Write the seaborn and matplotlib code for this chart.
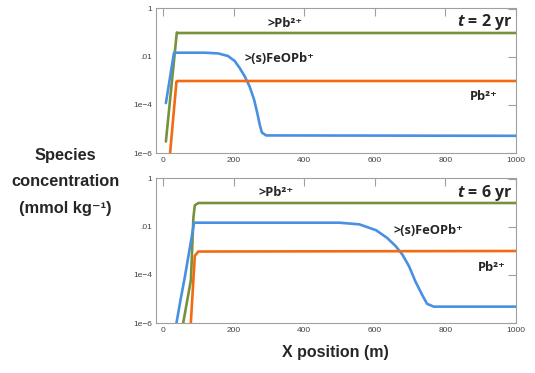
import pandas as pd
import matplotlib
matplotlib.use('Agg')
import matplotlib.pyplot as plt
import seaborn as sns

# --- values (x in m, concentration in mmol/kg) ---
species_names = ['>Pb2+', '>(s)FeOPb+', 'Pb2+']
panel_titles = ['2 yr', '6 yr']

# t = 2 yr
x_sorbed_2 = [8, 39, 42, 1000]
c_sorbed_2 = [3e-6, 0.105, 0.1, 0.1]
x_feopb_2 = [8, 31, 118, 156, 184, 203, 217, 231, 245, 258, 267, 274, 280, 292, 1000]
c_feopb_2 = [1.2e-4, 0.0151, 0.0151, 0.0141, 0.011, 0.0068, 0.0035, 0.0016, 6.0e-4,
             1.66e-4, 4.6e-5, 1.5e-5, 7.1e-6, 5.4e-6, 5.2e-6]
x_pb_2 = [19, 38, 41, 1000]
c_pb_2 = [7e-7, 9.5e-4, 1e-3, 1e-3]

# t = 6 yr
x_sorbed_6 = [57, 79, 86, 90, 100, 1000]
c_sorbed_6 = [1e-6, 6.3e-5, 0.025, 0.08, 0.1, 0.1]
x_feopb_6 = [38, 50, 62, 88, 300, 499, 556, 603, 635, 659, 678, 697, 715, 734, 748, 767, 1000]
c_feopb_6 = [1e-6, 1e-5, 8.7e-5, 0.0151, 0.0151, 0.0151, 0.0129, 0.0074, 0.0035, 0.0016,
             7.1e-4, 2.3e-4, 5.4e-5, 1.5e-5, 6.3e-6, 4.8e-6, 4.8e-6]
x_pb_6 = [78, 90, 100, 1000]
c_pb_6 = [7e-7, 6.3e-4, 9.5e-4, 1e-3]

ytick_vals = [1e-6, 1e-4, 1e-2, 1]
ytick_labels = ['1e\u22126', '1e\u22124', '.01', '1']
xtick_vals = [0, 200, 400, 600, 800, 1000]


def make_df(xs, cs):
    rows = []
    for name, x, c in zip(species_names, xs, cs):
        for xi, ci in zip(x, c):
            rows.append({'x': xi, 'conc': ci, 'species': name})
    return pd.DataFrame(rows)


panels = [
    make_df([x_sorbed_2, x_feopb_2, x_pb_2], [c_sorbed_2, c_feopb_2, c_pb_2]),
    make_df([x_sorbed_6, x_feopb_6, x_pb_6], [c_sorbed_6, c_feopb_6, c_pb_6]),
]

palette = {'>Pb2+': '#76923C', '>(s)FeOPb+': '#4A90E2', 'Pb2+': '#F26B12'}

sns.set_style('white')
plt.rcParams['font.family'] = ['Liberation Sans', 'DejaVu Sans']
plt.rcParams['mathtext.fontset'] = 'custom'
plt.rcParams['mathtext.bfit'] = 'Open Sans:italic:bold'
plt.rcParams['mathtext.rm'] = 'Open Sans'
plt.rcParams['mathtext.bf'] = 'Open Sans:bold'
plt.rcParams['mathtext.it'] = 'Open Sans:italic'
label_font = ['Open Sans', 'DejaVu Sans']

fig = plt.figure(figsize=(5.35, 3.73), dpi=100)
ax_top = fig.add_axes([156 / 535, 1 - 153 / 373, 360 / 535, 145 / 373])
ax_bot = fig.add_axes([156 / 535, 1 - 323 / 373, 360 / 535, 145 / 373])

# label positions in axes fraction
label_pos = [
    [(0.358, 0.89), (0.344, 0.655), (0.911, 0.393)],
    [(0.333, 0.897), (0.756, 0.641), (0.933, 0.386)],
]
label_txt = ['>Pb\u00b2\u207a', '>(s)FeOPb\u207a', 'Pb\u00b2\u207a']

for ax, df, title, pos in zip([ax_top, ax_bot], panels, panel_titles, label_pos):
    sns.lineplot(data=df, x='x', y='conc', hue='species', palette=palette,
                 estimator=None, sort=False, linewidth=1.9, legend=False, ax=ax)
    ax.set_yscale('log')
    ax.set_ylim(1e-6, 1.1)
    ax.set_xlim(-20, 1000)
    ax.set_yticks(ytick_vals)
    ax.set_yticklabels(ytick_labels)
    ax.minorticks_off()
    ax.set_xticks(xtick_vals)
    ax.set_xlabel('')
    ax.set_ylabel('')
    ax.tick_params(direction='in', top=True, right=True, length=6, width=0.8,
                   color='#A0A0A0', labelsize=6, labelcolor='#444444', pad=3)
    for s in ax.spines.values():
        s.set_color('#A0A0A0')
        s.set_linewidth(0.8)
    for (px, py), t in zip(pos, label_txt):
        ax.text(px, py, t, transform=ax.transAxes, ha='center', va='center',
                fontsize=9.3, fontweight='bold', family=label_font)
    ax.text(0.99, 0.9, '$\\mathbfit{t}$ = ' + title, transform=ax.transAxes,
            ha='right', va='center', fontsize=11.5, fontweight='bold', family=label_font)

fig.text(65 / 535, 1 - 182 / 373, 'Species\nconcentration\n(mmol kg\u207b\u00b9)',
         ha='center', va='center', fontsize=11.8, fontweight='bold', linespacing=1.95)
fig.text(335 / 535, 1 - 353 / 373, 'X position (m)', ha='center', va='center',
         fontsize=11.5, fontweight='bold')

plt.savefig('out.png', dpi=100)
